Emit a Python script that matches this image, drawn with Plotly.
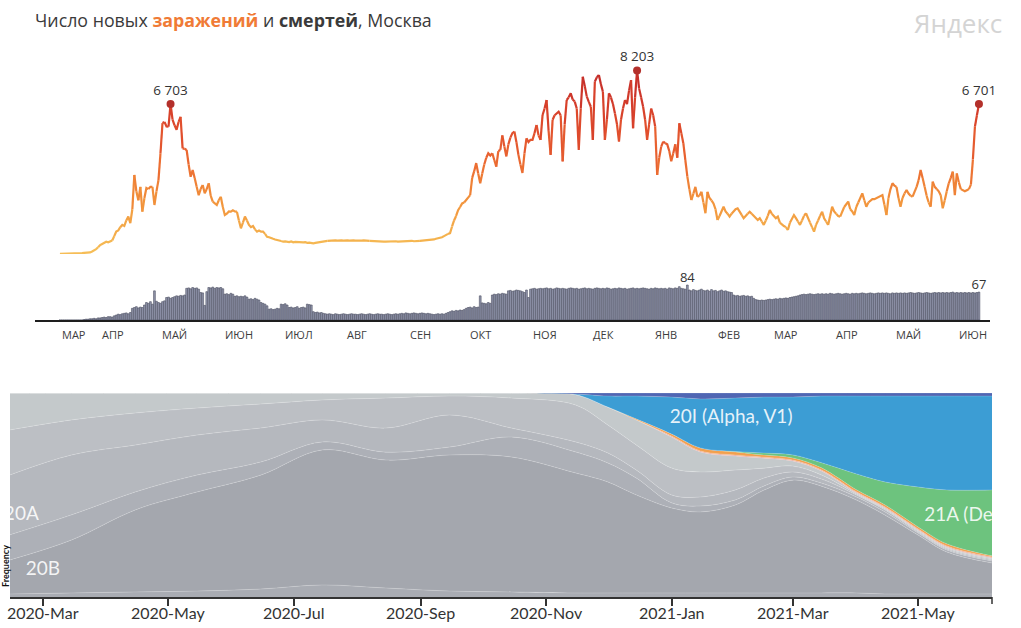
import plotly.graph_objects as go
import pandas as pd

W, H = 1021, 628

# ---------------- data: Moscow daily cases / deaths ----------------
case_start = "2020-03-12"
cases = [
    5, 6, 8, 10, 12, 15, 18, 20, 25, 28,
    30, 40, 50, 55, 60, 70, 110, 160, 220, 300,
    400, 450, 500, 550, 520, 550, 600, 800, 1000, 1050,
    1200, 1300, 1250, 1500, 1670, 1380, 2000, 3530, 2800, 2400,
    3000, 1890, 2500, 2950, 2900, 3000, 3000, 2190, 2800, 3300,
    4500, 5850, 5900, 5700, 5690, 6703, 6000, 5750, 5550, 5900,
    6130, 4720, 4700, 4650, 4000, 3450, 3750, 3400, 3000, 2630,
    2900, 3080, 2710, 2900, 3160, 2600, 2340, 2250, 2190, 2400,
    2560, 2100, 1740, 1800, 1900, 1890, 1950, 1900, 1890, 1500,
    1150, 1400, 1670, 1500, 1300, 1200, 1250, 1100, 1000, 1050,
    1000, 1000, 900, 770, 750, 700, 680, 650, 620, 600,
    580, 550, 560, 540, 530, 560, 520, 540, 530, 550,
    540, 520, 530, 500, 510, 490, 480, 500, 520, 540,
    560, 580, 570, 590, 600, 590, 600, 610, 600, 620,
    610, 600, 620, 610, 600, 615, 605, 600, 610, 600,
    600, 605, 600, 600, 590, 580, 570, 580, 560, 570,
    560, 550, 555, 560, 550, 540, 560, 570, 550, 560,
    570, 580, 560, 570, 580, 590, 570, 580, 580, 590,
    600, 590, 610, 600, 620, 620, 650, 680, 700, 720,
    750, 800, 850, 900, 930, 1230, 1500, 1700, 1960, 2100,
    2260, 2300, 2400, 2500, 2630, 3400, 3700, 4060, 3600, 3160,
    3600, 4000, 4300, 4500, 4400, 4500, 4200, 3900, 4600, 4650,
    5300, 4800, 4360, 4900, 5200, 5400, 5470, 5000, 4430, 4000,
    3620, 4500, 5170, 5000, 5100, 5100, 5400, 5760, 5300, 5100,
    6210, 6500, 6880, 5500, 4430, 6000, 6200, 6300, 6360, 6200,
    4140, 5800, 6880, 7000, 7180, 6900, 6810, 6500, 4650, 6500,
    7920, 7500, 7030, 6800, 6580, 5100, 7700, 7900, 8000, 7600,
    7250, 5100, 6000, 7180, 7000, 6700, 6280, 5800, 5020, 6000,
    6500, 6880, 6700, 7300, 7770, 5620, 7000, 8203, 7400, 7000,
    6580, 6000, 5100, 5800, 6500, 6200, 5690, 3530, 4300, 4800,
    5020, 4950, 4900, 4600, 4140, 4500, 4900, 4300, 5840, 5400,
    4950, 4200, 3460, 2900, 2410, 2700, 3000, 2560, 2600, 2780,
    2300, 1820, 2780, 2500, 2400, 2260, 2000, 1520, 1700, 1900,
    2110, 1900, 1800, 1670, 1800, 1900, 2000, 2040, 1900, 1750,
    1600, 1700, 1800, 1890, 1800, 1700, 1600, 1520, 1600, 1450,
    1300, 1500, 1700, 1960, 1800, 1700, 1600, 1670, 1400, 1300,
    1250, 1200, 1070, 1400, 1600, 1740, 1600, 1450, 1300, 1500,
    1700, 1820, 1600, 1400, 1200, 1000, 1300, 1500, 1700, 1890,
    1600, 1450, 1300, 1700, 2110, 1900, 1800, 1700, 1670, 1900,
    2100, 2200, 2340, 2000, 1900, 1740, 2100, 2300, 2500, 2710,
    2400, 2110, 2300, 2400, 2450, 2450, 2490, 2550, 2600, 2630,
    2200, 1740, 2500, 2900, 3160, 3050, 3000, 2500, 2110, 2500,
    2700, 2860, 2700, 2600, 2560, 2800, 3000, 3300, 3750, 3400,
    3000, 2600, 2300, 2110, 3230, 3000, 2900, 2800, 2630, 2040,
    2400, 2800, 3160, 3400, 3680, 2630, 3600, 3200, 2900, 2850,
    2800, 2850, 2900, 3100, 4220, 5690, 6200, 6701,
]
deaths = [
    0, 0, 0, 0, 0, 0, 0, 0, 0, 0,
    0, 0, 1, 2, 2, 3, 3, 4, 3, 5,
    5, 6, 7, 6, 8, 8, 7, 10, 12, 14,
    13, 15, 16, 17, 15, 18, 28, 30, 32, 29,
    31, 30, 36, 42, 40, 44, 38, 70, 45, 42,
    40, 44, 46, 54, 55, 52, 54, 56, 58, 57,
    59, 58, 60, 76, 77, 75, 78, 76, 77, 74,
    66, 65, 35, 68, 78, 77, 79, 76, 78, 77,
    78, 75, 62, 63, 61, 64, 62, 57, 58, 56,
    57, 56, 58, 55, 50, 51, 49, 52, 50, 48,
    42, 40, 38, 34, 26, 27, 25, 26, 28, 27,
    38, 37, 39, 36, 30, 31, 29, 30, 32, 28,
    30, 31, 29, 38, 37, 36, 20, 18, 19, 17,
    18, 16, 15, 14, 15, 14, 13, 15, 14, 13,
    14, 15, 14, 13, 14, 15, 14, 14, 13, 14,
    15, 14, 13, 14, 15, 14, 13, 14, 15, 14,
    14, 13, 14, 15, 14, 13, 14, 15, 14, 15,
    16, 15, 17, 16, 15, 16, 17, 16, 15, 16,
    17, 16, 15, 16, 15, 14, 13, 14, 15, 14,
    15, 14, 16, 18, 20, 22, 21, 23, 22, 24,
    23, 25, 28, 30, 31, 29, 32, 30, 31, 58,
    41, 40, 39, 42, 40, 60, 62, 61, 63, 62,
    64, 63, 62, 70, 71, 69, 70, 72, 71, 70,
    68, 66, 72, 54, 74, 75, 76, 74, 75, 76,
    75, 76, 77, 75, 76, 74, 75, 77, 76, 75,
    76, 75, 74, 76, 77, 76, 75, 76, 74, 75,
    76, 77, 75, 76, 75, 74, 76, 77, 76, 75,
    76, 75, 77, 76, 74, 75, 76, 75, 77, 76,
    75, 76, 74, 75, 76, 77, 75, 76, 75, 76,
    77, 76, 75, 74, 76, 75, 77, 76, 75, 76,
    75, 76, 74, 77, 76, 75, 77, 76, 80, 76,
    75, 74, 84, 72, 70, 73, 71, 70, 72, 74,
    71, 70, 72, 69, 73, 70, 71, 68, 70, 72,
    69, 70, 68, 67, 66, 60, 58, 59, 57, 58,
    59, 57, 58, 56, 57, 52, 49, 48, 47, 48,
    47, 48, 49, 50, 49, 50, 51, 50, 52, 51,
    52, 53, 52, 54, 55, 56, 57, 58, 60, 61,
    62, 61, 62, 63, 62, 61, 62, 63, 62, 63,
    62, 63, 62, 64, 63, 62, 63, 64, 63, 62,
    63, 64, 63, 62, 64, 63, 64, 63, 64, 65,
    64, 63, 64, 65, 64, 63, 64, 65, 64, 65,
    64, 65, 64, 63, 65, 64, 65, 64, 65, 64,
    65, 64, 65, 66, 65, 64, 65, 66, 65, 64,
    65, 66, 65, 64, 65, 66, 65, 66, 65, 66,
    65, 66, 65, 66, 67, 65, 66, 65, 66, 65,
    66, 65, 66, 65, 66, 65, 66, 67,
]
month_labels = ["МАР", "АПР", "МАЙ", "ИЮН", "ИЮЛ", "АВГ", "СЕН", "ОКТ",
                "НОЯ", "ДЕК", "ЯНВ", "ФЕВ", "МАР", "АПР", "МАЙ", "ИЮН"]
month_label_dates = ["2020-03-12", "2020-04-01", "2020-05-01", "2020-06-01",
                     "2020-07-01", "2020-08-01", "2020-09-01", "2020-10-01",
                     "2020-11-01", "2020-12-01", "2021-01-01", "2021-02-01",
                     "2021-03-01", "2021-04-01", "2021-05-01", "2021-06-01"]
case_peak_dates = ["2020-05-06", "2020-12-24", "2021-06-12"]
death_label_dates = ["2021-01-18", "2021-06-12"]

# ---------------- data: clade frequencies (%) ----------------
clade_dates = ["2020-02-14", "2020-03-15", "2020-04-15", "2020-05-15", "2020-06-15",
               "2020-07-15", "2020-08-15", "2020-09-15", "2020-10-15", "2020-11-15",
               "2020-12-01", "2020-12-15", "2021-01-01", "2021-01-15", "2021-02-01",
               "2021-02-15", "2021-03-01", "2021-03-15", "2021-04-01", "2021-04-15",
               "2021-05-01", "2021-05-15", "2021-06-06"]
f_19A = [1.5, 2.0, 2.5, 2.9, 3.9, 5.9, 4.4, 2.9, 2.5, 2.0, 2.0, 2.0, 2.0, 2.0, 2.0,
         2.0, 2.0, 2.0, 2.0, 1.5, 1.5, 1.5, 1.5]
f_20B = [16.7, 26.0, 40.2, 48.5, 55.9, 66.2, 62.7, 66.7, 66.2, 58.8, 54.4, 48.0, 41.7,
         39.7, 43.1, 50.5, 55.4, 52.5, 45.6, 38.7, 28.9, 20.6, 15.2]
f_20C = [12.3, 12.3, 8.8, 8.3, 6.4, 3.9, 3.9, 3.9, 9.8, 10.3, 9.3, 8.3, 2.5, 2.9, 2.5,
         2.0, 1.5, 1.5, 1.5, 1.5, 1.0, 1.0, 1.0]
f_20A = [29.4, 29.4, 23.0, 19.6, 16.7, 10.8, 11.8, 15.7, 4.4, 4.9, 4.9, 3.9, 3.9, 4.4,
         4.9, 3.9, 2.5, 2.0, 1.0, 1.0, 0.5, 0.5, 0.5]
f_20D = [22.1, 17.2, 15.7, 13.2, 11.8, 9.8, 14.7, 9.3, 14.7, 18.1, 13.7, 12.3, 13.2,
         12.3, 9.8, 4.9, 2.9, 2.0, 0.5, 0.5, 0.5, 0.5, 0.5]
f_19B = [18.1, 13.2, 9.8, 7.4, 5.4, 3.4, 2.5, 1.5, 2.5, 5.1, 8.8, 12.3, 15.2, 9.8, 6.9,
         4.9, 2.5, 2.0, 0.5, 0.5, 0.5, 0.5, 0.5]
f_20J = [0, 0, 0, 0, 0, 0, 0, 0, 0, 0, 0, 0, 0.5, 0.5, 0.5, 0.5, 0.5, 0.5, 0.5, 0.5,
         0.5, 0.5, 0.5]
f_20H = [0, 0, 0, 0, 0, 0, 0, 0, 0, 0, 0, 0.5, 1.0, 1.5, 1.5, 1.0, 1.0, 1.0, 1.0, 1.0,
         1.0, 1.0, 0.5]
f_21A = [0, 0, 0, 0, 0, 0, 0, 0, 0, 0, 0, 0, 0, 0, 0.2, 1.0, 1.5, 2.5, 7.8, 11.3, 19.6,
         26.5, 32.4]
f_20I = [0, 0, 0, 0, 0, 0, 0, 0, 0, 0.2, 5.4, 11.3, 18.1, 24.0, 26.2, 27.5, 28.4, 32.8,
         38.2, 42.2, 44.6, 46.1, 46.1]
f_other = [0, 0, 0, 0, 0, 0, 0, 0, 0, 0.5, 1.5, 1.5, 2.0, 2.9, 2.5, 2.0, 2.0, 1.5, 1.5,
           1.5, 1.5, 1.5, 1.5]
clade_names = ["19A", "20B", "20C", "20A", "20D", "19B", "20J", "20H (Beta, V2)",
               "21A (Delta)", "20I (Alpha, V1)", "other"]
clade_series = [f_19A, f_20B, f_20C, f_20A, f_20D, f_19B, f_20J, f_20H, f_21A, f_20I, f_other]
clade_colors = ["#a9acb3", "#a4a7ae", "#adb0b7", "#b5b8be", "#bcbfc4", "#c4c9cb",
                "#eaa9a0", "#f2a04e", "#6dc37e", "#3c9dd4", "#5066b3"]
freq_tick_dates = ["2020-03-01", "2020-05-01", "2020-07-01", "2020-09-01",
                   "2020-11-01", "2021-01-01", "2021-03-01", "2021-05-01"]


def px_x(p):
    return p / W


def px_y(p):
    return 1 - p / H


fig = go.Figure()

# ---------------- top: cases line with value-based colour ----------------
start = pd.Timestamp(case_start)
days = pd.date_range(start, periods=len(cases), freq="D")
ddays = pd.date_range(start, periods=len(deaths), freq="D")
vmax = max(cases)

stops = [(0.0, (246, 192, 88)), (0.1, (244, 176, 76)), (0.28, (242, 148, 60)),
         (0.48, (236, 110, 50)), (0.68, (224, 76, 44)), (0.85, (208, 56, 42)),
         (1.0, (192, 44, 42))]


def colour(t):
    t = max(0.0, min(1.0, t))
    for (a, ca), (b, cb) in zip(stops[:-1], stops[1:]):
        if t <= b:
            u = (t - a) / (b - a)
            c = [round(ca[k] + (cb[k] - ca[k]) * u) for k in range(3)]
            return "rgb(%d,%d,%d)" % tuple(c)
    return "rgb(%d,%d,%d)" % stops[-1][1]


NB = 28
n = len(cases)
bins = [min(int((cases[i] + cases[i + 1]) / 2 / vmax * NB), NB - 1) for i in range(n - 1)]
i = 0
while i < n - 1:
    j = i
    while j + 1 < n - 1 and bins[j + 1] == bins[i]:
        j += 1
    fig.add_trace(go.Scatter(
        x=days[i:j + 2], y=cases[i:j + 2], mode="lines",
        line=dict(color=colour((bins[i] + 0.5) / NB), width=2.2),
        xaxis="x", yaxis="y", hoverinfo="skip", showlegend=False, cliponaxis=False))
    i = j + 1

pk_idx = [(pd.Timestamp(d) - start).days for d in case_peak_dates]
fig.add_trace(go.Scatter(
    x=[days[k] for k in pk_idx], y=[cases[k] for k in pk_idx],
    mode="markers+text",
    text=[f"{cases[k]:,}".replace(",", " ") for k in pk_idx],
    textposition="top center",
    textfont=dict(family="Open Sans", size=13.5, color="#333333"),
    marker=dict(color="#b3302b", size=8),
    xaxis="x", yaxis="y", hoverinfo="skip", showlegend=False, cliponaxis=False))

# ---------------- deaths bars ----------------
fig.add_trace(go.Bar(
    x=ddays, y=deaths, xaxis="x", yaxis="y2",
    marker=dict(color="#9498ae", line=dict(color="#4a4e60", width=0.6)),
    hoverinfo="skip", showlegend=False))
dl_idx = [(pd.Timestamp(d) - start).days for d in death_label_dates]
fig.add_trace(go.Scatter(
    x=[ddays[k] for k in dl_idx], y=[deaths[k] for k in dl_idx],
    mode="text", text=[str(deaths[k]) for k in dl_idx], textposition="top center",
    textfont=dict(family="Open Sans", size=13, color="#333333"),
    xaxis="x", yaxis="y2", hoverinfo="skip", showlegend=False, cliponaxis=False))

# ---------------- bottom: clade frequencies ----------------
for name, vals, col in zip(clade_names, clade_series, clade_colors):
    fig.add_trace(go.Scatter(
        x=clade_dates, y=vals, name=name, mode="lines", stackgroup="clades",
        groupnorm="percent", fillcolor=col,
        line=dict(width=0.8, color="rgba(255,255,255,0.22)", shape="spline", smoothing=1.0),
        xaxis="x3", yaxis="y3", hoverinfo="skip", showlegend=False))

clade_label_text = ["20B", "20A", "20I (Alpha, V1)", "21A (Delta)"]
clade_label_x = ["2020-03-01", "2020-02-28", "2021-01-30", "2021-05-04"]
clade_label_y = [13, 40, 87.7, 39.7]
clade_label_pos = ["middle center", "middle left", "middle center", "middle right"]
for t, x, y, p in zip(clade_label_text, clade_label_x, clade_label_y, clade_label_pos):
    fig.add_trace(go.Scatter(
        x=[x], y=[y], mode="text", text=[t], textposition=p,
        textfont=dict(family="Lato", size=19, color="rgba(255,255,255,0.88)"),
        xaxis="x3", yaxis="y3", hoverinfo="skip", showlegend=False, cliponaxis=True))

# ---------------- layout ----------------
x_range = [start - pd.Timedelta(days=12.4), start + pd.Timedelta(days=462.5)]
annotations = [
    dict(text="Число новых <b><span style='color:#f07b36'>заражений</span></b> и "
              "<b>смертей</b>, Москва",
         x=px_x(33), y=px_y(20), xref="paper", yref="paper", xanchor="left",
         yanchor="middle", showarrow=False,
         font=dict(family="Open Sans", size=17.8, color="#3a3a3a")),
    dict(text="Яндекс", x=px_x(1004), y=px_y(23), xref="paper", yref="paper",
         xanchor="right", yanchor="middle", showarrow=False,
         font=dict(family="Open Sans", size=26, color="#d4d4d4")),
    dict(text="<b>Frequency</b>", x=px_x(5), y=px_y(566), xref="paper", yref="paper",
         xanchor="center", yanchor="middle", textangle=-90, showarrow=False,
         font=dict(family="Lato", size=9, color="#111111")),
]
for lab, d in zip(month_labels, month_label_dates):
    annotations.append(dict(
        text=lab, x=d, xref="x", y=px_y(334), yref="paper", xanchor="left",
        yanchor="middle", showarrow=False,
        font=dict(family="Open Sans", size=11, color="#3d3d3d")))
for d in freq_tick_dates:
    annotations.append(dict(
        text=pd.Timestamp(d).strftime("%Y-%b"), x=d, xref="x3", y=px_y(612),
        yref="paper", xanchor="center", yanchor="middle", showarrow=False,
        font=dict(family="Lato", size=16, color="#333333")))

fig.update_layout(
    width=W, height=H, margin=dict(l=0, r=0, t=0, b=0),
    paper_bgcolor="white", plot_bgcolor="white", showlegend=False,
    bargap=0.12,
    xaxis=dict(domain=[px_x(35), px_x(990)], range=x_range, anchor="y2",
               showgrid=False, zeroline=False, showticklabels=False, ticks="",
               showline=True, linecolor="#1e1e1e", linewidth=1.5),
    yaxis=dict(domain=[px_y(254), px_y(60)], range=[0, 8668], anchor="x",
               visible=False),
    yaxis2=dict(domain=[px_y(320), px_y(270)], range=[0, 120], anchor="x",
                visible=False),
    xaxis3=dict(domain=[px_x(10), px_x(992)], range=["2020-02-14", "2021-06-06"],
                anchor="y3", showgrid=False, zeroline=False,
                showline=True, linecolor="#333333", linewidth=1.5,
                ticks="outside", ticklen=7, tickwidth=1.5, tickcolor="#333333",
                tickvals=freq_tick_dates, showticklabels=False),
    yaxis3=dict(domain=[px_y(597), px_y(393)], range=[0, 100], anchor="x3",
                visible=False),
    annotations=annotations,
    shapes=[dict(type="line", xref="x3 domain", yref="paper", x0=1, x1=1,
                 y0=px_y(597), y1=px_y(604), line=dict(color="#333333", width=1.5))],
)

fig.write_html("out.html",
               config={"displayModeBar": False},
               post_script="document.body.style.margin='0';"
                           "document.body.style.overflow='hidden';")
